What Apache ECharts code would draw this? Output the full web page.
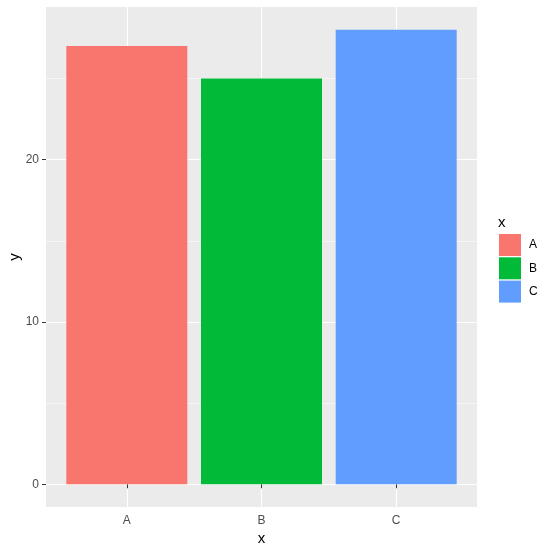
<!DOCTYPE html>
<html><head><meta charset="utf-8">
<script src="https://cdn.jsdelivr.net/npm/echarts@6/dist/echarts.min.js"></script>
<style>html,body{margin:0;padding:0;background:#fff}#c{width:553px;height:552px}</style>
</head><body><div id="c"></div>
<script>
const categories = ['A', 'B', 'C'];
const values = [27, 25, 28];
const colors = ['#F8766D', '#00BA38', '#619CFF'];
const yMajorTicks = [0, 10, 20];
const yMinorTicks = [5, 15, 25];
const xPositions = [1, 2, 3];

const font = 'Liberation Sans, Arial, sans-serif';
const chart = echarts.init(document.getElementById('c'), null, {renderer: 'canvas'});

const series = categories.map((c, i) => ({
  name: c,
  type: 'bar',
  data: [[xPositions[i], values[i]]],
  barWidth: 121,
  barGap: '-100%',
  itemStyle: {color: colors[i]},
  z: 3,
  silent: true
}));

chart.setOption({
  animation: false,
  backgroundColor: '#ffffff',
  title: {text: 'x', left: 498, top: 215, padding: 0, textStyle: {fontFamily: font, fontSize: 15, fontWeight: 'normal', color: '#000'}},
  legend: {
    orient: 'vertical', left: 499, top: 234, padding: 0,
    itemWidth: 22, itemHeight: 22, itemGap: 1.3,
    icon: 'rect',
    data: categories,
    textStyle: {fontFamily: font, fontSize: 12, color: '#000', padding: [0, 0, 0, 3]}
  },
  grid: {left: 46, right: 76, top: 7, bottom: 45, show: true, backgroundColor: '#EBEBEB', borderWidth: 0,
    containLabel: false, outerBoundsMode: 'none'},
  xAxis: {
    type: 'value', min: 0.4, max: 3.6,
    name: 'x', nameLocation: 'middle', nameGap: 24, nameMoveOverlap: false,
    nameTextStyle: {fontFamily: font, fontSize: 15, color: '#000'},
    axisLine: {show: false},
    axisTick: {show: true, length: 4, customValues: xPositions, lineStyle: {color: '#333333', width: 1}},
    axisLabel: {customValues: xPositions, margin: 8, fontFamily: font, fontSize: 12, color: '#4D4D4D',
      formatter: v => categories[xPositions.indexOf(v)] || ''},
    splitLine: {show: true, lineStyle: {color: '#ffffff', width: 1.1}}
  },
  yAxis: [{
    type: 'value', min: -1.4, max: 29.4,
    name: 'y', nameLocation: 'middle', nameGap: 24, nameMoveOverlap: false,
    nameTextStyle: {fontFamily: font, fontSize: 15, color: '#000'},
    axisLine: {show: false},
    axisTick: {show: true, length: 4, customValues: yMajorTicks, lineStyle: {color: '#333333', width: 1}},
    axisLabel: {customValues: yMajorTicks, margin: 7, fontFamily: font, fontSize: 12, color: '#4D4D4D'},
    splitLine: {show: true, lineStyle: {color: '#ffffff', width: 1.1}}
  }, {
    type: 'value', min: -1.4, max: 29.4, position: 'left',
    axisLine: {show: false},
    axisTick: {show: false, customValues: yMinorTicks},
    axisLabel: {show: false, customValues: yMinorTicks},
    splitLine: {show: true, lineStyle: {color: '#ffffff', width: 0.55}}
  }],
  series: series
});
</script></body></html>
